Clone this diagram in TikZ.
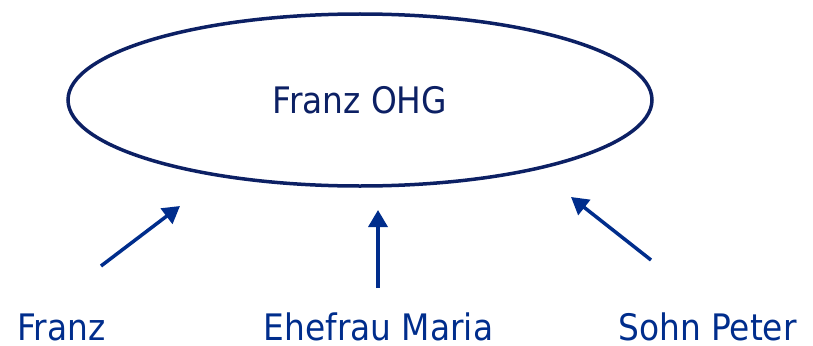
\documentclass[tikz,border=0pt]{standalone}
\usepackage{fontspec}
\setmainfont{DejaVu Sans Condensed}
\usetikzlibrary{shapes.geometric,arrows.meta}
\definecolor{navy}{RGB}{12,32,100}
\definecolor{arrowblue}{RGB}{0,45,140}
\tikzset{
  company/.style={ellipse,draw=navy,line width=3.5pt,minimum width=584pt,minimum height=172pt,inner sep=0pt,text=navy,font=\fontsize{36.5}{40}\selectfont},
  partner/.style={anchor=base,text=arrowblue,font=\fontsize{36.5}{40}\selectfont,inner sep=0pt,text depth=0pt},
  link/.style={draw=arrowblue,line width=3.5pt,-{Triangle[length=17pt,width=19pt]}}
}
\begin{document}
\begin{tikzpicture}[x=1pt,y=-1pt]
\useasboundingbox (0,0) rectangle (813,345);
\node[company] (ohg) at (360,100) {Franz OHG};
\node[partner] (franz) at (61.5,340) {Franz};
\node[partner] (maria) at (378.5,340) {Ehefrau Maria};
\node[partner] (peter) at (707.5,340) {Sohn Peter};
\coordinate (s1) at (101,266);
\coordinate (e1) at (180,206);
\coordinate (s2) at (378,288);
\coordinate (e2) at (378,210);
\coordinate (s3) at (651,260);
\coordinate (e3) at (571,197);
\draw[link] (s1) -- (e1);
\draw[link] (s2) -- (e2);
\draw[link] (s3) -- (e3);
\end{tikzpicture}
\end{document}
